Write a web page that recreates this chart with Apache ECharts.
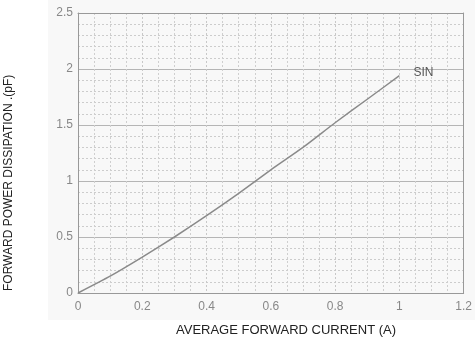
<!DOCTYPE html>
<html>
<head>
<meta charset="utf-8">
<script src="https://cdn.jsdelivr.net/npm/echarts@6/dist/echarts.min.js"></script>
<style>html,body{margin:0;padding:0;background:#fff}#c{width:475px;height:349px}</style>
</head>
<body>
<div id="c"></div>
<script>
var currentA = [0, 0.1, 0.2, 0.3, 0.4, 0.5, 0.6, 0.7, 0.8, 0.9, 1.0];
var powerSin = [0, 0.15, 0.32, 0.5, 0.69, 0.89, 1.1, 1.3, 1.52, 1.73, 1.94];
var seriesName = 'SIN';
var xTitle = 'AVERAGE FORWARD CURRENT (A)';
var yTitle = 'FORWARD POWER DISSIPATION .(pF)';

var chart = echarts.init(document.getElementById('c'), null, {renderer: 'canvas'});
var data = currentA.map(function (x, i) { return [x, powerSin[i]]; });
function fmt(v) { return String(+v.toFixed(1)); }
var borderAxis = {type: 'value', axisLine: {show: true, onZero: false, lineStyle: {color: '#999'}}, axisLabel: {show: false}, axisTick: {show: false}, splitLine: {show: false}};
chart.setOption({
  backgroundColor: '#fff',
  animation: false,
  grid: {left: 78, right: 8, top: 13, bottom: 56},
  graphic: [
    {type: 'rect', z: -10, shape: {x: 48, y: 0, width: 427, height: 320}, style: {fill: '#f8f8f8'}},
    {type: 'text', left: 176, top: 324, style: {text: xTitle, fill: '#222', font: '13px "Liberation Sans"'}},
    {type: 'text', x: 3, y: 291, rotation: Math.PI / 2, style: {text: yTitle, fill: '#222', font: '12px "Liberation Sans"'}}
  ],
  xAxis: [{
    type: 'value', min: 0, max: 1.2, interval: 0.2,
    axisLine: {show: true, onZero: false, lineStyle: {color: '#999', width: 1}},
    axisTick: {show: false},
    axisLabel: {color: '#888', fontSize: 12, fontFamily: 'Liberation Sans', margin: 8, formatter: fmt},
    splitLine: {show: true, lineStyle: {color: '#c8c8c8', type: [2, 2], width: 1}},
    minorTick: {show: false, splitNumber: 4},
    minorSplitLine: {show: true, lineStyle: {color: '#cfcfcf', type: [2, 2], width: 1}}
  }, Object.assign({}, borderAxis, {position: 'top', min: 0, max: 1.2})],
  yAxis: [{
    type: 'value', min: 0, max: 2.5, interval: 0.5,
    axisLine: {show: true, onZero: false, lineStyle: {color: '#999', width: 1}},
    axisTick: {show: false},
    axisLabel: {color: '#888', fontSize: 12, fontFamily: 'Liberation Sans', margin: 5, formatter: fmt},
    splitLine: {show: true, lineStyle: {color: '#b5b5b5', width: 1}},
    minorTick: {show: false, splitNumber: 5},
    minorSplitLine: {show: true, lineStyle: {color: '#cccccc', type: [2, 2], width: 1}}
  }, Object.assign({}, borderAxis, {position: 'right', min: 0, max: 2.5})],
  series: [{
    type: 'line', name: seriesName, data: data, showSymbol: false, symbol: 'none',
    lineStyle: {color: '#8a8a8a', width: 1.5}, smooth: 0.2,
    endLabel: {show: true, formatter: seriesName, color: '#555', fontSize: 12, fontFamily: 'Liberation Sans', distance: 14, offset: [0, -3]}
  }]
});
</script>
</body>
</html>
